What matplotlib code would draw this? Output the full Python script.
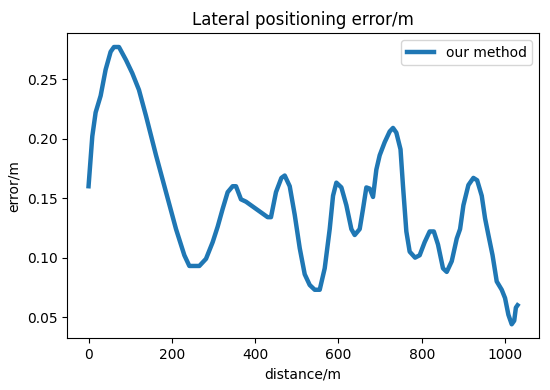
import matplotlib
matplotlib.use('Agg')
import matplotlib.pyplot as plt

# distance (m) and lateral error (m)
distance = [0, 3, 9, 17, 29, 41, 53, 61, 73, 90, 105, 121, 138, 162, 186, 210,
            230, 242, 266, 282, 298, 310, 322, 334, 346, 354, 366, 378, 394, 414,
            430, 438, 450, 463, 471, 483, 495, 507, 519, 531, 543, 555, 567, 579,
            587, 595, 607, 619, 631, 639, 651, 659, 667, 675, 683, 691, 699, 711,
            723, 731, 739, 749, 755, 763, 771, 784, 795, 807, 819, 829, 839, 851,
            860, 872, 884, 892, 900, 912, 924, 933, 944, 952, 960, 970, 980, 992,
            1000, 1008, 1016, 1022, 1026, 1030]
error = [0.160, 0.174, 0.202, 0.222, 0.236, 0.258, 0.273, 0.277, 0.277, 0.266,
         0.255, 0.241, 0.219, 0.186, 0.155, 0.124, 0.102, 0.093, 0.093, 0.099,
         0.113, 0.126, 0.141, 0.155, 0.160, 0.160, 0.149, 0.147, 0.143, 0.138,
         0.134, 0.134, 0.155, 0.167, 0.169, 0.160, 0.136, 0.108, 0.086, 0.077,
         0.073, 0.073, 0.091, 0.124, 0.152, 0.163, 0.159, 0.144, 0.124, 0.119,
         0.124, 0.141, 0.159, 0.158, 0.151, 0.174, 0.186, 0.197, 0.206, 0.209,
         0.205, 0.191, 0.160, 0.122, 0.105, 0.100, 0.102, 0.113, 0.122, 0.122,
         0.111, 0.091, 0.088, 0.097, 0.116, 0.124, 0.144, 0.161, 0.167, 0.165,
         0.152, 0.133, 0.119, 0.102, 0.080, 0.073, 0.066, 0.052, 0.044, 0.047,
         0.058, 0.060]

fig = plt.figure(figsize=(5.5, 3.9), dpi=100)
ax = fig.add_axes([0.122, 0.133, 0.858, 0.782])

ax.plot(distance, error, label='our method', color='#1f77b4', linewidth=3.2)

ax.set_xticks([0, 200, 400, 600, 800, 1000])
ax.set_yticks([0.05, 0.10, 0.15, 0.20, 0.25])
ax.tick_params(labelsize=10)

ax.set_xlabel('distance/m', fontsize=10)
ax.set_ylabel('error/m', fontsize=10)
ax.set_title('Lateral positioning error/m', fontsize=12)

ax.legend(loc='upper right', fontsize=10)

fig.savefig('out.png', dpi=100)
